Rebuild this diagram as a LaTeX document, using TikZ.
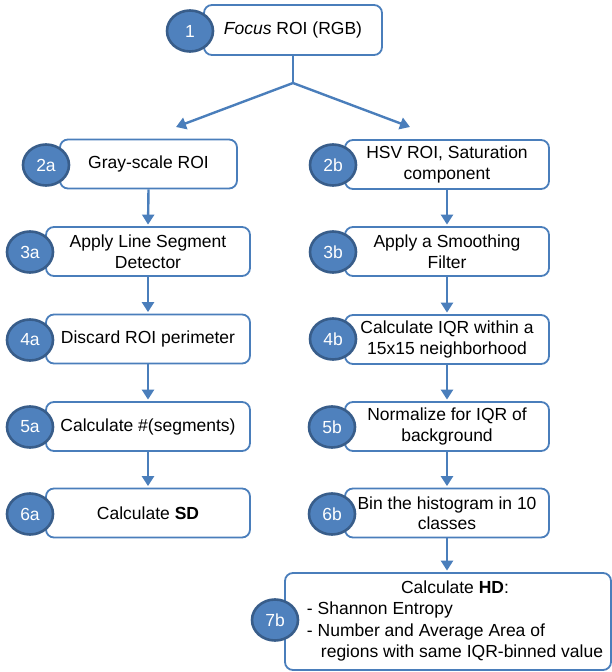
\documentclass[tikz,border=0pt]{standalone}
\usepackage{fontspec}
\setmainfont{Liberation Sans}
\usetikzlibrary{arrows.meta,shapes.geometric}
\definecolor{boxline}{HTML}{4A7EBB}
\definecolor{discfill}{HTML}{4F81BD}
\definecolor{discline}{HTML}{385D8A}
\definecolor{flowblue}{HTML}{4A7EBB}

\begin{document}
\begin{tikzpicture}[x=1pt,y=-1pt,
  stepbox/.style={draw=boxline, line width=1.8pt, rounded corners=8pt, fill=white,
    align=center, inner sep=0pt, font=\fontsize{17.5}{20.5}\selectfont},
  disc/.style={ellipse, draw=discline, line width=2.6pt, fill=discfill,
    minimum width=46pt, minimum height=41pt, inner sep=0pt,
    text=white, font=\fontsize{17.5}{20}\selectfont},
  flow/.style={draw=flowblue, line width=2.4pt,
    -{Triangle[length=10pt,width=12pt]}, shorten >=1.5pt},
  stem/.style={draw=flowblue, line width=2.4pt}]

\useasboundingbox (0,0) rectangle (612,672);

% top step
\node[stepbox, minimum width=178pt, minimum height=50pt] (b1) at (293,30)
  {\textit{Focus} ROI (RGB)};

% left branch
\node[stepbox, minimum width=177pt, minimum height=49pt] (b2a) at (148.5,164)
  {Gray-scale ROI};
\node[stepbox, minimum width=204pt, minimum height=49pt] (b3a) at (148,251.5)
  {Apply Line Segment\\Detector};
\node[stepbox, minimum width=204pt, minimum height=49pt] (b4a) at (148,339)
  {Discard ROI perimeter};
\node[stepbox, minimum width=204pt, minimum height=49pt] (b5a) at (148,426.5)
  {Calculate \#(segments)};
\node[stepbox, minimum width=204pt, minimum height=49pt] (b6a) at (148,513)
  {Calculate \textbf{SD}};

% right branch
\node[stepbox, minimum width=204pt, minimum height=49pt] (b2b) at (447,164.5)
  {HSV ROI, Saturation\\component};
\node[stepbox, minimum width=204pt, minimum height=49pt] (b3b) at (447,251.5)
  {Apply a Smoothing\\Filter};
\node[stepbox, minimum width=204pt, minimum height=49pt] (b4b) at (447,339.5)
  {Calculate IQR within a\\15x15 neighborhood};
\node[stepbox, minimum width=204pt, minimum height=49pt] (b5b) at (447,426.5)
  {Normalize for IQR of\\background};
\node[stepbox, minimum width=204pt, minimum height=49pt] (b6b) at (447,513)
  {Bin the histogram in 10\\classes};
\node[stepbox, minimum width=326pt, minimum height=97pt] (b7b) at (448,621.5) {};
\node[font=\fontsize{17.5}{21.5}\selectfont, inner sep=0pt] (t7b) at (455,621)
  {\begin{tabular}{@{}l@{}}
    \multicolumn{1}{@{}c@{}}{Calculate \textbf{HD}:}\\
    - Shannon Entropy\\
    - Number and Average Area of\\
    \hspace*{14pt}regions with same IQR-binned value
   \end{tabular}};

% connectors
\coordinate (fork) at (293,83);
\coordinate (tipL) at (176,127);
\coordinate (tipR) at (410,127);
\draw[stem] (b1.south) -- (fork);
\draw[flow, shorten >=0pt] (fork) -- (tipL);
\draw[flow, shorten >=0pt] (fork) -- (tipR);

\draw[flow] (b2a.south) -- (b3a.north);
\draw[flow] (b3a.south) -- (b4a.north);
\draw[flow] (b4a.south) -- (b5a.north);
\draw[flow] (b5a.south) -- (b6a.north);

\draw[flow] (b2b.south) -- (b3b.north);
\draw[flow] (b3b.south) -- (b4b.north);
\draw[flow] (b4b.south) -- (b5b.north);
\draw[flow] (b5b.south) -- (b6b.north);
\draw[flow] (b6b.south) -- ([xshift=-1pt]b7b.north);

% step numbers
\node[disc] (n1)  at (190,31)  {1};
\node[disc] (n2a) at (46,165)  {2a};
\node[disc] (n3a) at (30,252)  {3a};
\node[disc] (n4a) at (30,340)  {4a};
\node[disc] (n5a) at (30,427)  {5a};
\node[disc] (n6a) at (30,514)  {6a};
\node[disc] (n2b) at (333,165) {2b};
\node[disc] (n3b) at (333,252) {3b};
\node[disc] (n4b) at (333,339) {4b};
\node[disc] (n5b) at (332,427) {5b};
\node[disc] (n6b) at (332,514) {6b};
\node[disc] (n7b) at (275,620) {7b};
\end{tikzpicture}
\end{document}
